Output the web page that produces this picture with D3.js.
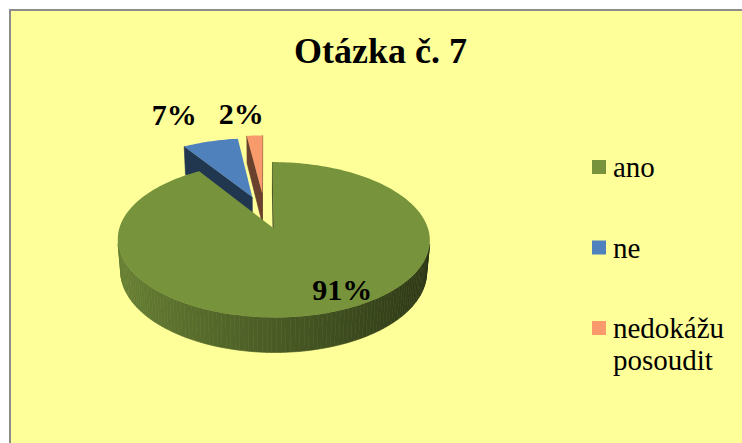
<!DOCTYPE html>
<html>
<head>
<meta charset="utf-8">
<script src="https://cdn.jsdelivr.net/npm/d3@7"></script>
<style>
  body { margin: 0; background: #fff; }
</style>
</head>
<body>
<div id="chart"></div>
<script>
const title = "Otázka č. 7";
const categories = ["ano", "ne", "nedokážu posoudit"];
const values = [91, 7, 2];
const percentLabels = ["91%", "7%", "2%"];
const colors = ["#77933C", "#4F81BD", "#F99A6C"];

const width = 742;
const height = 443;
const serif = "'Liberation Serif', 'DejaVu Serif', 'Noto Serif', Tinos, 'Nimbus Roman', 'Nimbus Roman No9 L', FreeSerif, 'Times New Roman', Times, serif";

// 3D pie projection settings
const cx = 265, cy = 214, scale = 150;
const tilt = 28.6 * Math.PI / 180;
const persp = 0.165;
const depth = 0.24;
const explode = [0.2, 0.26, 0.3];
// label placement (angle in degrees, radius in pie units, from pie centre)
const labelPlace = [{ a: 154, r: 1.02 }, { a: 336.5, r: 1.9 }, { a: 353.5, r: 1.76 }];

const svg = d3.select("#chart")
    .append("svg")
    .attr("width", width)
    .attr("height", height)
    .style("font-family", serif);

svg.append("rect")
    .attr("x", 10)
    .attr("y", 10)
    .attr("width", width + 20)
    .attr("height", height + 20)
    .attr("fill", "#FFFF99")
    .attr("stroke", "#8c8c8c")
    .attr("stroke-width", 2);

svg.append("text")
    .attr("x", 380.5)
    .attr("y", 63)
    .attr("text-anchor", "middle")
    .attr("font-family", serif)
    .style("font-size", "36px")
    .style("font-weight", "bold")
    .text(title);

function project(x, z, y) {
    // x to the right, z away from viewer, y up (0 = top face)
    const d = 1 + persp * (z * Math.cos(tilt) - y * Math.sin(tilt));
    return [cx + scale * x / d, cy - scale * (z * Math.sin(tilt) + y * Math.cos(tilt)) / d];
}

function shade(c, f) {
    const rgb = d3.rgb(c);
    return d3.rgb(Math.min(255, rgb.r * f), Math.min(255, rgb.g * f), Math.min(255, rgb.b * f)).formatHex();
}

function area(pts) {
    let s = 0;
    for (let i = 0; i < pts.length; i++) {
        const p = pts[i], q = pts[(i + 1) % pts.length];
        s += p[0] * q[1] - q[0] * p[1];
    }
    return s / 2;
}

const slices = d3.pie().sort(null).value(d => d)(values);

const sides = [];
const tops = [];

slices.forEach((s, i) => {
    const mid = (s.startAngle + s.endAngle) / 2;
    const ox = explode[i] * Math.sin(mid);
    const oz = explode[i] * Math.cos(mid);
    const pt = (a, y) => project(ox + Math.sin(a), oz + Math.cos(a), y);
    const apex = y => project(ox, oz, y);

    const n = Math.max(2, Math.ceil((s.endAngle - s.startAngle) / (Math.PI / 120)));
    const angles = d3.range(n + 1).map(k => s.startAngle + (s.endAngle - s.startAngle) * k / n);

    for (let k = 0; k < n; k++) {
        const a0 = angles[k], a1 = angles[k + 1];
        const am = (a0 + a1) / 2;
        sides.push({
            pts: [pt(a0, 0), pt(a1, 0), pt(a1, -depth), pt(a0, -depth)],
            fill: shade(colors[i], 0.62 - 0.26 * Math.sin(am)),
            z: oz + Math.cos(am)
        });
    }

    sides.push({
        pts: [pt(s.endAngle, 0), apex(0), apex(-depth), pt(s.endAngle, -depth)],
        fill: shade(colors[i], 0.42),
        z: oz + 0.5 * Math.cos(s.endAngle)
    });
    sides.push({
        pts: [apex(0), pt(s.startAngle, 0), pt(s.startAngle, -depth), apex(-depth)],
        fill: shade(colors[i], 0.42),
        z: oz + 0.5 * Math.cos(s.startAngle)
    });

    tops.push({
        pts: [apex(0)].concat(angles.map(a => pt(a, 0))),
        fill: colors[i]
    });
});

const line = d3.line().curve(d3.curveLinearClosed);
const pieG = svg.append("g");

pieG.selectAll("path.side")
    .data(sides.filter(f => area(f.pts) < 0).sort((a, b) => b.z - a.z))
    .join("path")
    .attr("class", "side")
    .attr("d", d => line(d.pts))
    .attr("fill", d => d.fill)
    .attr("stroke", d => d.fill)
    .attr("stroke-width", 0.6);

pieG.selectAll("path.top")
    .data(tops)
    .join("path")
    .attr("class", "top")
    .attr("d", d => line(d.pts))
    .attr("fill", d => d.fill);

svg.selectAll("text.pct")
    .data(percentLabels)
    .join("text")
    .attr("class", "pct")
    .attr("x", (d, i) => {
        const a = labelPlace[i].a * Math.PI / 180;
        return project(labelPlace[i].r * Math.sin(a), labelPlace[i].r * Math.cos(a), 0)[0];
    })
    .attr("y", (d, i) => {
        const a = labelPlace[i].a * Math.PI / 180;
        return project(labelPlace[i].r * Math.sin(a), labelPlace[i].r * Math.cos(a), 0)[1];
    })
    .attr("dy", "0.35em")
    .attr("text-anchor", "middle")
    .attr("font-family", serif)
    .style("font-size", "30px")
    .style("font-weight", "bold")
    .text(d => d);

// legend
const legend = svg.append("g")
    .attr("transform", "translate(592, 177)");

categories.forEach((c, i) => {
    const row = legend.append("g")
        .attr("transform", `translate(0, ${i * 80.5})`);

    row.append("rect")
        .attr("x", 0)
        .attr("y", -17)
        .attr("width", 14)
        .attr("height", 14)
        .attr("fill", colors[i]);

    const t = row.append("text")
        .attr("x", 21)
        .attr("y", 0)
        .attr("font-family", serif)
        .style("font-size", "29px");

    c.split(" ").forEach((w, j) => {
        t.append("tspan")
            .attr("x", 21)
            .attr("dy", j === 0 ? 0 : 32)
            .text(w);
    });
});
</script>
</body>
</html>
